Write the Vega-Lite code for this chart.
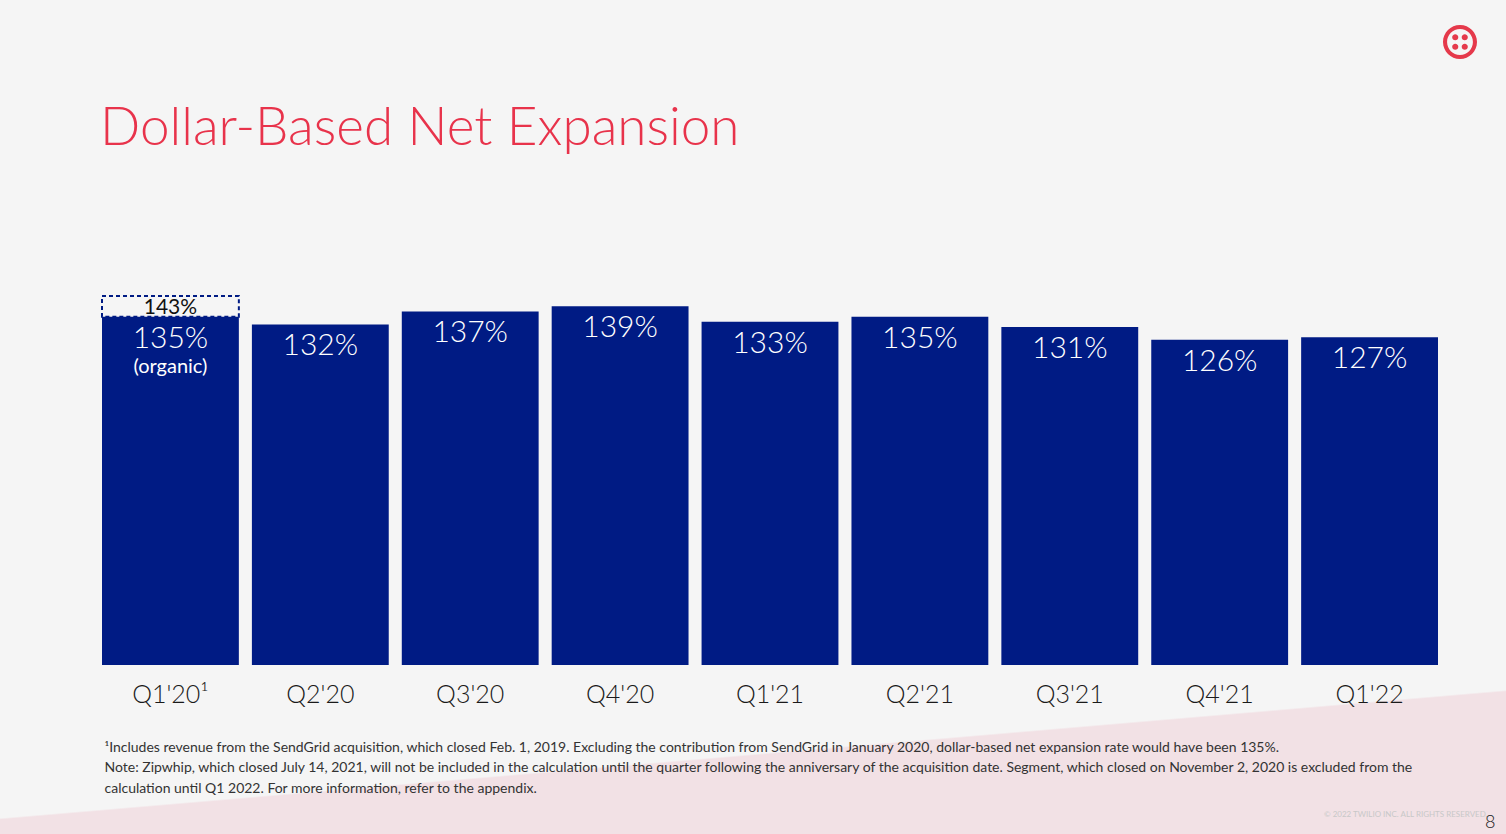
{
  "$schema": "https://vega.github.io/schema/vega-lite/v6.json",
  "width": 1506,
  "height": 834,
  "autosize": {"type": "none"},
  "padding": 0,
  "background": "#f5f5f5",
  "config": {
    "font": "Lato",
    "view": {
      "stroke": null,
      "fill": {
        "gradient": "linear",
        "x1": 0.5, "y1": 0.904, "x2": 0.51535, "y2": 1.004,
        "stops": [
          {"offset": 0, "color": "#f5f5f5"},
          {"offset": 0.02, "color": "#f2e1e5"},
          {"offset": 1, "color": "#f2e1e5"}
        ]
      }
    }
  },
  "title": {
    "text": "Dollar-Based Net Expansion",
    "anchor": "start",
    "frame": "group",
    "dx": 100,
    "offset": -198,
    "baseline": "alphabetic",
    "fontSize": 53,
    "fontWeight": 300,
    "font": "Lato",
    "color": "#e8334b"
  },
  "data": {
    "values": [
      {"quarter": "Q1'20", "dbne": 1.35, "reported": 1.43, "note": "(organic)"},
      {"quarter": "Q2'20", "dbne": 1.32},
      {"quarter": "Q3'20", "dbne": 1.37},
      {"quarter": "Q4'20", "dbne": 1.39},
      {"quarter": "Q1'21", "dbne": 1.33},
      {"quarter": "Q2'21", "dbne": 1.35},
      {"quarter": "Q3'21", "dbne": 1.31},
      {"quarter": "Q4'21", "dbne": 1.26},
      {"quarter": "Q1'22", "dbne": 1.27}
    ]
  },
  "encoding": {
    "x": {
      "field": "quarter",
      "type": "nominal",
      "sort": null,
      "scale": {"range": [102, 1438], "paddingInner": 0.087, "paddingOuter": 0},
      "axis": {
        "orient": "bottom",
        "offset": -169,
        "domain": false,
        "ticks": false,
        "tickSize": 0,
        "grid": false,
        "labelFontSize": 25,
        "labelFontWeight": 300,
        "labelColor": "#1a1a1a",
        "labelFont": "Lato",
        "labelPadding": 37,
        "labelBaseline": "alphabetic",
        "labelAngle": 0,
        "labelExpr": "datum.value == \"Q1'20\" ? \"Q1'20¹\" : datum.value",
        "title": [
          "¹Includes revenue from the SendGrid acquisition, which closed Feb. 1, 2019. Excluding the contribution from SendGrid in January 2020, dollar-based net expansion rate would have been 135%.",
          "Note: Zipwhip, which closed July 14, 2021, will not be included in the calculation until the quarter following the anniversary of the acquisition date. Segment, which closed on November 2, 2020 is excluded from the",
          "calculation until Q1 2022. For more information, refer to the appendix."
        ],
        "titleX": 104,
        "titleY": 86,
        "titleAlign": "left",
        "titleAnchor": "start",
        "titleBaseline": "alphabetic",
        "titleAngle": 0,
        "titleFont": "Lato",
        "titleFontSize": 14,
        "titleFontWeight": "normal",
        "titleColor": "#333333",
        "titleLineHeight": 20.5
      }
    }
  },
  "layer": [
    {
      "mark": {"type": "point", "filled": true, "size": 0, "opacity": 1},
      "encoding": {
        "y": {"field": "dbne", "type": "quantitative"},
        "color": {
          "datum": "Twilio",
          "scale": {"range": ["#e5394b"]},
          "legend": {
            "orient": "none",
            "legendX": 1443,
            "legendY": 25,
            "title": null,
            "padding": 0,
            "labelExpr": "''",
            "symbolType": "M-1,0A1,1,0,1,1,1,0A1,1,0,1,1,-1,0Z M-0.76,0A0.76,0.76,0,1,0,0.76,0A0.76,0.76,0,1,0,-0.76,0Z M-0.46,-0.28A0.18,0.18,0,1,1,-0.1,-0.28A0.18,0.18,0,1,1,-0.46,-0.28Z M0.1,-0.28A0.18,0.18,0,1,1,0.46,-0.28A0.18,0.18,0,1,1,0.1,-0.28Z M-0.46,0.28A0.18,0.18,0,1,1,-0.1,0.28A0.18,0.18,0,1,1,-0.46,0.28Z M0.1,0.28A0.18,0.18,0,1,1,0.46,0.28A0.18,0.18,0,1,1,0.1,0.28Z",
            "symbolSize": 1156,
            "symbolStrokeWidth": 0,
            "symbolOpacity": 1
          }
        }
      }
    },
    {
      "mark": {"type": "bar", "color": "#001b84"},
      "encoding": {
        "y": {
          "field": "dbne",
          "type": "quantitative",
          "scale": {"domain": [0, 1.43], "range": [665, 296], "nice": false, "zero": true},
          "axis": {
            "orient": "left",
            "domain": false,
            "ticks": false,
            "labels": false,
            "grid": false,
            "title": "© 2022 TWILIO INC. ALL RIGHTS RESERVED.",
            "titleAngle": 0,
            "titleX": 1487,
            "titleY": 816,
            "titleAlign": "right",
            "titleBaseline": "alphabetic",
            "titleFont": "Lato",
            "titleFontSize": 8,
            "titleFontWeight": "normal",
            "titleColor": "#c8c8c8"
          }
        },
        "strokeDash": {
          "datum": "page",
          "legend": {
            "orient": "none",
            "legendX": 1485,
            "legendY": 814,
            "title": "8",
            "titleFont": "Lato",
            "titleFontSize": 18,
            "titleFontWeight": 300,
            "titleColor": "#222222",
            "padding": 0,
            "labelExpr": "''",
            "symbolSize": 0,
            "symbolStrokeWidth": 0
          }
        }
      }
    },
    {
      "transform": [{"filter": "isValid(datum.reported)"}],
      "mark": {"type": "bar", "fill": "transparent", "stroke": "#001b84", "strokeWidth": 2, "strokeDash": [4, 3]},
      "encoding": {
        "y": {"field": "reported", "type": "quantitative"},
        "y2": {"field": "dbne"}
      }
    },
    {
      "transform": [{"filter": "isValid(datum.reported)"}],
      "mark": {"type": "text", "baseline": "alphabetic", "dy": -3, "fontSize": 21, "color": "#111111", "font": "Lato"},
      "encoding": {
        "y": {"field": "dbne", "type": "quantitative"},
        "text": {"field": "reported", "type": "quantitative", "format": ".0%"}
      }
    },
    {
      "mark": {"type": "text", "baseline": "top", "dy": 7, "fontSize": 30, "fontWeight": 300, "color": "#ffffff", "font": "Lato"},
      "encoding": {
        "y": {"field": "dbne", "type": "quantitative"},
        "text": {"field": "dbne", "type": "quantitative", "format": ".0%"}
      }
    },
    {
      "transform": [{"filter": "isValid(datum.note)"}],
      "mark": {"type": "text", "baseline": "middle", "dy": 50, "fontSize": 20, "color": "#ffffff", "font": "Lato"},
      "encoding": {
        "y": {"field": "dbne", "type": "quantitative"},
        "text": {"field": "note"}
      }
    }
  ]
}
